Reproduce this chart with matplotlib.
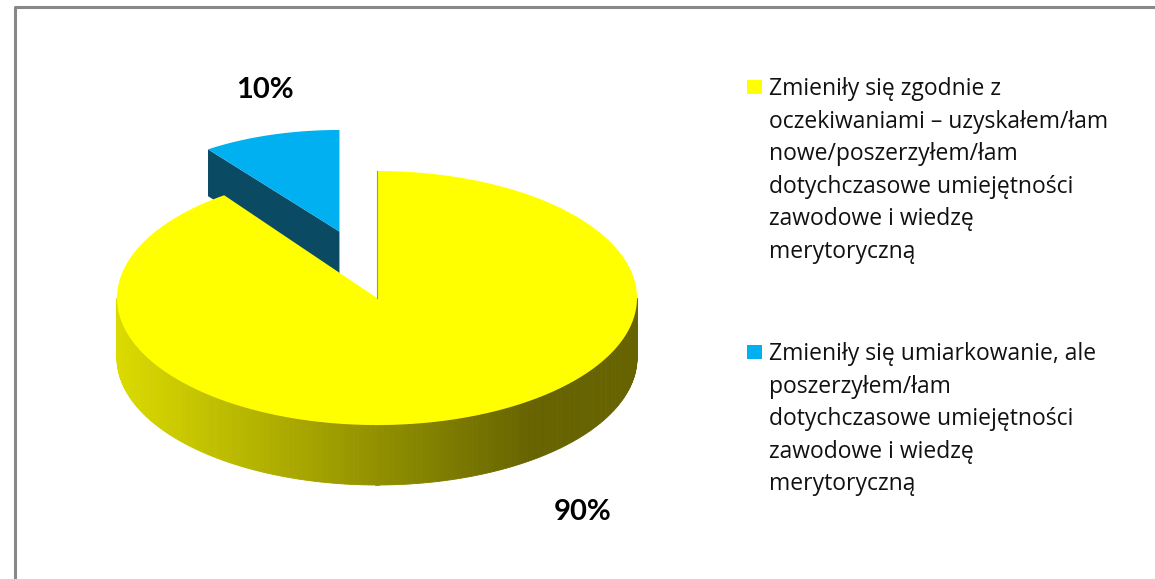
import numpy as np
import matplotlib
matplotlib.use("Agg")
from matplotlib import pyplot as plt
from matplotlib.patches import Polygon, Rectangle

# data
legend_lines = [["Zmieniły się zgodnie z", "oczekiwaniami – uzyskałem/łam", "nowe/poszerzyłem/łam",
                 "dotychczasowe umiejętności", "zawodowe i wiedzę", "merytoryczną"],
                ["Zmieniły się umiarkowanie, ale", "poszerzyłem/łam", "dotychczasowe umiejętności",
                 "zawodowe i wiedzę", "merytoryczną"]]
values = [90, 10]
pct_labels = ["90%", "10%"]
top_colors = ["#ffff00", "#00b0f0"]
face_colors = [None, "#0b4a63"]

W, H = 1155, 579
fig = plt.figure(figsize=(W / 100, H / 100), dpi=100)
ax = fig.add_axes([0, 0, 1, 1])
ax.set_xlim(0, W)
ax.set_ylim(H, 0)
ax.axis('off')

# frame (top and left lines only visible)
ax.plot([15, 15, W], [H, 7, 7], color="#888888", lw=2.2, solid_capstyle='butt')

cx, cy, a, b, h = 377, 298, 260, 127, 60
fracs = np.array(values) / sum(values)
# yellow goes clockwise from 12 o'clock, blue counterclockwise from 12 o'clock
th_blue = (90, 90 + 360 * fracs[1])
th_yel = (90 + 360 * fracs[1], 450)


def pt(ccx, ccy, aa, bb, th):
    t = np.radians(th)
    return ccx + aa * np.cos(t), ccy - bb * np.sin(t)


# blue exploded slice (drawn first, behind)
mid = np.radians(np.mean(th_blue))
explode, shrink = 0.55, 0.86
bcx = cx + a * explode * np.cos(mid) * 0.85
bcy = cy - b * explode * np.sin(mid) * 1.0
ba, bb_, bh = a * shrink, b * 0.8, h * 0.78
ox, oy = pt(bcx, bcy, ba, bb_, th_blue[1])
ax.add_patch(Polygon([(bcx, bcy), (ox, oy), (ox, oy + bh), (bcx, bcy + bh)],
                     closed=True, facecolor=face_colors[1], edgecolor='none'))
ts = np.linspace(th_blue[0], th_blue[1], 60)
xs, ys = pt(bcx, bcy, ba, bb_, ts)
ax.add_patch(Polygon(np.column_stack([np.r_[bcx, xs], np.r_[bcy, ys]]),
                     closed=True, facecolor=top_colors[1], edgecolor='none'))

# yellow side wall with gradient
light = np.array([0.86, 0.86, 0.0])
dark = np.array([0.40, 0.39, 0.0])
ts = np.linspace(180, 360, 240)
for t0, t1 in zip(ts[:-1], ts[1:]):
    x0, y0 = pt(cx, cy, a, b, t0)
    x1, y1 = pt(cx, cy, a, b, t1)
    f = ((x0 + x1) / 2 - (cx - a)) / (2 * a)
    f = min(f / 0.8, 1.0)
    col = light * (1 - f) + dark * f
    ax.add_patch(Polygon([(x0, y0), (x1, y1), (x1, y1 + h), (x0, y0 + h)],
                         closed=True, facecolor=col, edgecolor=col, lw=0.6))

# yellow top
ts = np.linspace(th_yel[0], th_yel[1], 400)
xs, ys = pt(cx, cy, a, b, ts)
ax.add_patch(Polygon(np.column_stack([np.r_[cx, xs], np.r_[cy, ys]]),
                     closed=True, facecolor=top_colors[0], edgecolor='none'))
ax.plot([cx, cx], [cy - b, cy], color="#9a9a60", lw=0.8)

# percentage labels
ax.text(583, 512, pct_labels[0], fontsize=21, fontweight='bold', family='Lato',
        ha='center', va='center', color='black')
ax.text(265, 90, pct_labels[1], fontsize=21, fontweight='bold', family='Lato',
        ha='center', va='center', color='black')

# legend
starts = [95, 360]
step = 32.6
for lines, y0, col in zip(legend_lines, starts, top_colors):
    ax.add_patch(Rectangle((747, y0 - 15), 15, 14, facecolor=col, edgecolor='none'))
    for i, line in enumerate(lines):
        ax.text(769, y0 + i * step, line, fontsize=16.5, family='Open Sans',
                ha='left', va='baseline', color='#111111')

fig.savefig("out.png", dpi=100)
